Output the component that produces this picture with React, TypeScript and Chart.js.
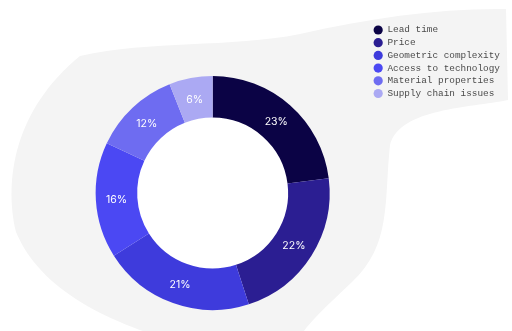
import React, { useEffect, useRef } from "react";
import { Chart, registerables } from "chart.js";

Chart.register(...registerables);

const categories = [
  "Lead time",
  "Price",
  "Geometric complexity",
  "Access to technology",
  "Material properties",
  "Supply chain issues",
];
const shares = [23, 22, 21, 16, 12, 6];
const sliceColors = ["#0b0345", "#2b1e92", "#3e3bdc", "#4b48f3", "#6e6cf1", "#aba9f3"];

const blobPlugin = {
  id: "blob",
  beforeDraw(chart: any) {
    const ctx = chart.ctx;
    ctx.save();
    ctx.fillStyle = "#f4f4f4";
    ctx.beginPath();
    ctx.moveTo(80, 56);
    ctx.bezierCurveTo(150, 40, 230, 48, 300, 34);
    ctx.bezierCurveTo(370, 18, 440, 8, 506, 9);
    ctx.lineTo(508, 100);
    ctx.bezierCurveTo(470, 108, 400, 108, 390, 145);
    ctx.bezierCurveTo(384, 200, 392, 245, 352, 282);
    ctx.bezierCurveTo(325, 308, 305, 325, 295, 345);
    ctx.lineTo(190, 345);
    ctx.bezierCurveTo(110, 325, 40, 290, 16, 232);
    ctx.bezierCurveTo(4, 180, 14, 110, 80, 56);
    ctx.closePath();
    ctx.fill();
    ctx.restore();
  },
  beforeDatasetsDraw(chart: any) {
    const ctx = chart.ctx;
    const arc = chart.getDatasetMeta(0).data[0];
    if (!arc) return;
    ctx.save();
    ctx.fillStyle = "#ffffff";
    ctx.beginPath();
    ctx.arc(arc.x, arc.y, arc.innerRadius + 1, 0, Math.PI * 2);
    ctx.fill();
    ctx.restore();
  },
};

const labelPlugin = {
  id: "sliceLabels",
  afterDatasetsDraw(chart: any) {
    const ctx = chart.ctx;
    const meta = chart.getDatasetMeta(0);
    const data = chart.data.datasets[0].data;
    ctx.save();
    ctx.fillStyle = "#ffffff";
    ctx.font = "10.5px Inter, 'Noto Sans', sans-serif";
    ctx.textAlign = "center";
    ctx.textBaseline = "middle";
    meta.data.forEach((arc: any, i: number) => {
      const p = arc.tooltipPosition();
      ctx.fillText(data[i] + "%", p.x, p.y + 1);
    });
    ctx.restore();
  },
};

export default function App() {
  const ref = useRef<HTMLCanvasElement>(null);
  useEffect(() => {
    const chart = new Chart(ref.current!, {
      type: "doughnut",
      data: {
        labels: categories,
        datasets: [
          {
            data: shares,
            backgroundColor: sliceColors,
            borderWidth: 0,
          },
        ],
      },
      plugins: [blobPlugin, labelPlugin],
      options: {
        animation: false,
        responsive: false,
        radius: 117,
        cutout: "64.5%",
        layout: { padding: { left: 55, right: 2, top: 22, bottom: 0 } },
        plugins: {
          tooltip: { enabled: false },
          legend: {
            position: "right",
            align: "start",
            labels: {
              usePointStyle: true,
              pointStyle: "circle",
              boxHeight: 6.5,
              pointStyleWidth: 9.2,
              padding: 3.3,
              color: "#4a4a4a",
              font: { family: "'Liberation Mono', monospace", size: 9.4 },
            },
          },
        },
      },
    } as any);
    return () => chart.destroy();
  }, []);
  return (
    <div style={{ position: "fixed", left: 0, top: 0, width: 512, height: 331, overflow: "hidden", background: "#fff" }}>
      <canvas ref={ref} width={512} height={364} style={{ display: "block" }} />
    </div>
  );
}
